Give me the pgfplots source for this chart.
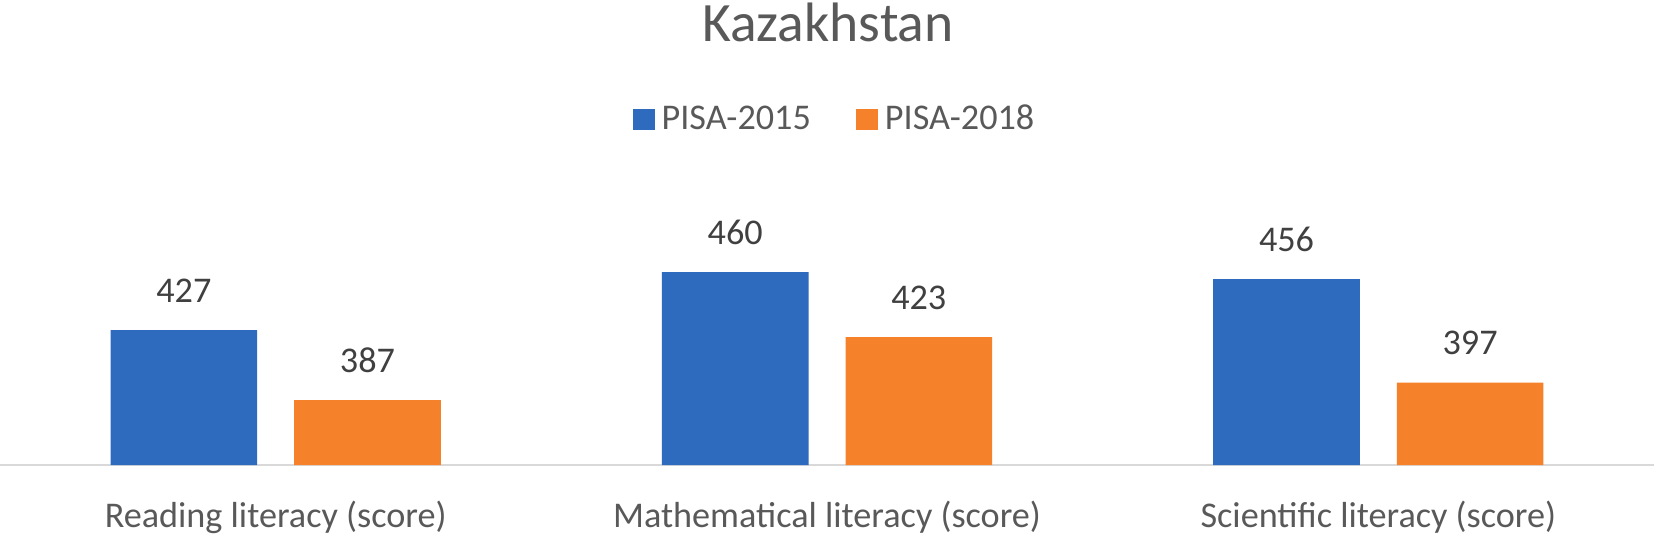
\documentclass[border=0pt]{standalone}
\usepackage{fontspec}
\setmainfont{Carlito}
\usepackage{pgfplots}
\pgfplotsset{compat=1.18}
\definecolor{pisablue}{RGB}{46,106,189}
\definecolor{pisaorange}{RGB}{245,130,42}
\definecolor{numgray}{RGB}{64,64,64}
\definecolor{txtgray}{RGB}{89,89,89}
\definecolor{axgray}{RGB}{217,217,217}

\begin{document}
\begin{tikzpicture}
\useasboundingbox (0,-6.8mm) rectangle (165.4mm,46.5mm);
\begin{axis}[
  at={(0,0)}, anchor=south west,
  width=165.4mm, height=26.3mm, scale only axis,
  ybar=3.7mm, bar width=14.66mm,
  xmin=-0.5, xmax=2.5, ymin=350, ymax=500,
  xtick=data,
  xticklabels={Reading literacy (score),Mathematical literacy (score),Scientific literacy (score)},
  axis x line=bottom, axis y line=none,
  x axis line style={-, draw=axgray, line width=0.8pt},
  major tick length=0, ytick=\empty,
  /pgf/number format/assume math mode=true,
  xticklabel style={anchor=base, yshift=-6.2mm, font=\fontsize{10.3}{12}\selectfont, text=txtgray},
  nodes near coords,
  every node near coord/.append style={anchor=base, yshift=2.8mm, font=\fontsize{10.3}{12}\selectfont, text=numgray},
  legend style={at={(0.506,1.312)}, anchor=center, draw=none, fill=none,
    legend columns=2, font=\fontsize{10.3}{12}\selectfont, text=txtgray,
    /tikz/every even column/.append style={column sep=3.8mm}},
  legend image code/.code={\fill[#1] (0mm,-1.05mm) rectangle (2.2mm,1.05mm);},
]
\addplot[fill=pisablue, draw=none] coordinates {(0,427) (1,460) (2,456)};
\addlegendentry{PISA-2015}
\addplot[fill=pisaorange, draw=none] coordinates {(0,387) (1,423) (2,397)};
\addlegendentry{PISA-2018}
\end{axis}
\node[anchor=base, font=\fontsize{15.8}{19}\selectfont, text=txtgray] at (82.8mm,42.4mm) {Kazakhstan};
\end{tikzpicture}
\end{document}
